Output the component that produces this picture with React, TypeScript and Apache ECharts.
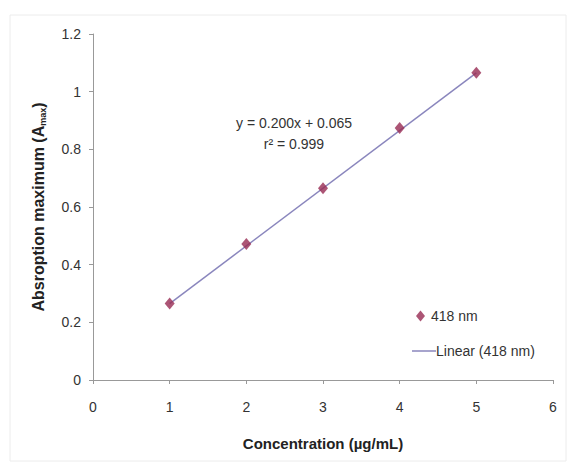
import React, { useEffect, useRef } from "react";
import * as echarts from "echarts";

const concentration = [1, 2, 3, 4, 5];
const absorbance = [0.265, 0.472, 0.665, 0.874, 1.066];
const slope = 0.2;
const intercept = 0.065;
const fitRange = [1, 5];
const equationLines = ["y = 0.200x + 0.065", "r² = 0.999"];
const seriesName = "418 nm";
const trendName = "Linear (418 nm)";

const FONT = "'Liberation Sans', Arial, sans-serif";

export default function App() {
  const ref = useRef<HTMLDivElement>(null);
  useEffect(() => {
    if (!ref.current) return;
    const chart = echarts.init(ref.current, null, { renderer: "svg" });
    const points = concentration.map((c, i) => [c, absorbance[i]]);
    const trend = fitRange.map((x) => [x, slope * x + intercept]);
    chart.setOption({
      animation: false,
      backgroundColor: "#fff",
      textStyle: { fontFamily: FONT },
      grid: { left: 93, right: 29, top: 34, bottom: 86 },
      xAxis: {
        type: "value",
        min: 0,
        max: 6,
        interval: 1,
        name: "Concentration (µg/mL)",
        nameLocation: "middle",
        nameGap: 56,
        nameTextStyle: { fontFamily: FONT, fontWeight: "bold", fontSize: 15, color: "#222" },
        axisLine: { lineStyle: { color: "#999", width: 1 } },
        axisTick: { show: true, length: 4, lineStyle: { color: "#999" } },
        axisLabel: { fontFamily: FONT, fontSize: 14, color: "#333", margin: 20 },
        splitLine: { show: false },
      },
      yAxis: {
        type: "value",
        min: 0,
        max: 1.2,
        interval: 0.2,
        name: "{a|Absroption maximum (A}{s|max}{a|)}",
        nameLocation: "middle",
        nameGap: 46,
        nameTextStyle: {
          rich: {
            a: { fontFamily: FONT, fontWeight: "bold", fontSize: 16, color: "#222" },
            s: { fontFamily: FONT, fontWeight: "bold", fontSize: 9, color: "#222", padding: [8, 0, 0, 0] },
          },
        },
        axisLine: { show: true, lineStyle: { color: "#999", width: 1 } },
        axisTick: { show: true, length: 4, lineStyle: { color: "#999" } },
        axisLabel: { fontFamily: FONT, fontSize: 14, color: "#333", margin: 12 },
        splitLine: { show: false },
      },
      legend: [
        {
          data: [{ name: seriesName, icon: "diamond" }],
          left: 411,
          top: 304,
          itemWidth: 9,
          itemHeight: 11,
          itemGap: 8,
          textStyle: { fontFamily: FONT, fontSize: 14, color: "#333", padding: [0, 0, 0, 1] },
        },
        {
          data: [{ name: trendName, icon: "rect" }],
          left: 407,
          top: 339,
          itemWidth: 24,
          itemHeight: 1.5,
          textStyle: { fontFamily: FONT, fontSize: 14, color: "#333", padding: [0, 0, 0, -5] },
        },
      ],
      graphic: [
        {
          type: "rect",
          shape: { x: 10, y: 15, width: 556, height: 446 },
          style: { fill: "none", stroke: "#ececec", lineWidth: 1 },
          silent: true,
        },
        {
          type: "text",
          x: 294,
          y: 123,
          style: {
            text: equationLines[0],
            font: `14px ${FONT}`,
            fill: "#333",
            align: "center",
            verticalAlign: "middle",
          },
        },
        {
          type: "text",
          x: 294,
          y: 144,
          style: {
            text: equationLines[1],
            font: `14px ${FONT}`,
            fill: "#333",
            align: "center",
            verticalAlign: "middle",
          },
        },
      ],
      series: [
        {
          name: trendName,
          type: "line",
          data: trend,
          symbol: "none",
          lineStyle: { color: "#8a86bd", width: 1.5 },
          itemStyle: { color: "#8a86bd" },
          z: 1,
        },
        {
          name: seriesName,
          type: "scatter",
          data: points,
          symbol: "diamond",
          symbolSize: [10, 12],
          itemStyle: { color: "#972a52" },
          z: 2,
        },
      ],
    });
    return () => chart.dispose();
  }, []);
  return (
    <div
      ref={ref}
      style={{ position: "fixed", left: 0, top: 0, width: 582, height: 466 }}
    />
  );
}
